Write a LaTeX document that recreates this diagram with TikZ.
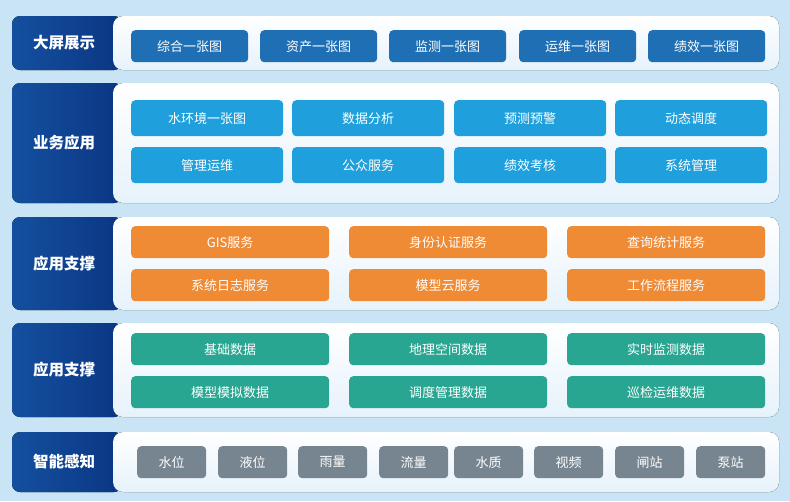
\documentclass[tikz,border=0pt]{standalone}
\usepackage{fontspec}
\setmainfont{Noto Sans CJK SC}
\usetikzlibrary{positioning}
\definecolor{bgc}{HTML}{C9E4F4}
\definecolor{labL}{HTML}{14509F}
\definecolor{labR}{HTML}{0A3683}
\definecolor{panB}{HTML}{E6F2FB}
\definecolor{bA}{HTML}{1F6FB4}
\definecolor{bB}{HTML}{1FA0DC}
\definecolor{bC}{HTML}{EF8A35}
\definecolor{bD}{HTML}{28A692}
\definecolor{bE}{HTML}{76858F}
\tikzset{
  labpanel/.style={rounded corners=8pt, left color=labL, right color=labR, draw=none},
  whitepanel/.style={rounded corners=10pt, top color=white, bottom color=panB, draw=none},
  labtext/.style={text=white, font=\bfseries\fontsize{15.5}{18}\selectfont, inner sep=0pt},
  btn/.style={rounded corners=4pt, text=white, font=\fontsize{13}{15}\selectfont, inner sep=0pt, draw=none, anchor=north west},
  btnA/.style={btn, fill=bA, minimum width=117pt, minimum height=32pt},
  btnB/.style={btn, fill=bB, minimum width=152pt, minimum height=36pt},
  btnC/.style={btn, fill=bC, minimum width=198pt, minimum height=32pt},
  btnD/.style={btn, fill=bD, minimum width=198pt, minimum height=32pt},
  btnE/.style={btn, fill=bE, minimum width=69pt, minimum height=32pt},
}
\begin{document}
\begin{tikzpicture}[x=1pt,y=-1pt]
\fill[bgc] (0,0) rectangle (790,501);
\useasboundingbox (0,0) rectangle (790,501);
% layer panels
\foreach \t/\b/\n in {16/70/a,83/203/b,217/310/c,323/417/d,432/492/e}{
  \fill[labpanel] (12,\t) rectangle (122,\b);
  \fill[whitepanel] (113,\t) rectangle (779,\b);
}
\node[labtext] (la) at (64,43) {大屏展示};
\node[labtext] (lb) at (64,143) {业务应用};
\node[labtext] (lc) at (64,264) {应用支撑};
\node[labtext] (ld) at (64,370) {应用支撑};
\node[labtext] (le) at (64,462) {智能感知};
% row 1
\node[btnA] (a1) at (131,30) {综合一张图};
\node[btnA] (a2) at (260,30) {资产一张图};
\node[btnA] (a3) at (389,30) {监测一张图};
\node[btnA] (a4) at (519,30) {运维一张图};
\node[btnA] (a5) at (648,30) {绩效一张图};
% row 2
\node[btnB] (b1) at (131,100) {水环境一张图};
\node[btnB] (b2) at (292,100) {数据分析};
\node[btnB] (b3) at (454,100) {预测预警};
\node[btnB] (b4) at (615,100) {动态调度};
\node[btnB] (b5) at (131,147) {管理运维};
\node[btnB] (b6) at (292,147) {公众服务};
\node[btnB] (b7) at (454,147) {绩效考核};
\node[btnB] (b8) at (615,147) {系统管理};
% row 3
\node[btnC] (c1) at (131,226) {GIS服务};
\node[btnC] (c2) at (349,226) {身份认证服务};
\node[btnC] (c3) at (567,226) {查询统计服务};
\node[btnC] (c4) at (131,269) {系统日志服务};
\node[btnC] (c5) at (349,269) {模型云服务};
\node[btnC] (c6) at (567,269) {工作流程服务};
% row 4
\node[btnD] (d1) at (131,333) {基础数据};
\node[btnD] (d2) at (349,333) {地理空间数据};
\node[btnD] (d3) at (567,333) {实时监测数据};
\node[btnD] (d4) at (131,376) {模型模拟数据};
\node[btnD] (d5) at (349,376) {调度管理数据};
\node[btnD] (d6) at (567,376) {巡检运维数据};
% row 5
\node[btnE] (e1) at (137,446) {水位};
\node[btnE] (e2) at (218,446) {液位};
\node[btnE] (e3) at (298,446) {雨量};
\node[btnE] (e4) at (379,446) {流量};
\node[btnE] (e5) at (454,446) {水质};
\node[btnE] (e6) at (534,446) {视频};
\node[btnE] (e7) at (615,446) {闸站};
\node[btnE] (e8) at (696,446) {泵站};
\end{tikzpicture}
\end{document}
